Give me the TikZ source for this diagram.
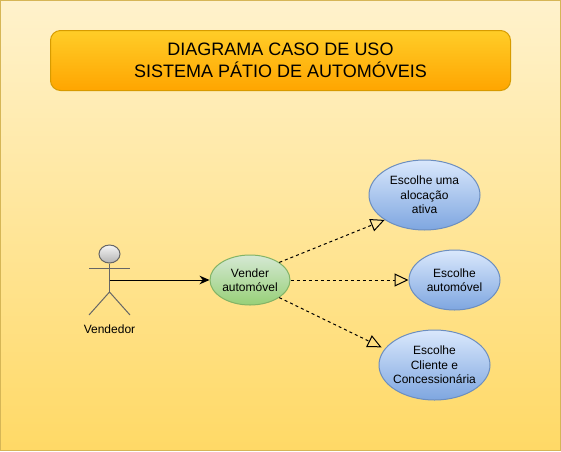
\documentclass[tikz,border=0pt]{standalone}
\usepackage{fontspec}
\setmainfont{Liberation Sans}
\usetikzlibrary{positioning, arrows.meta, shapes.geometric}

\definecolor{canvastop}{HTML}{FFF2CC}
\definecolor{canvasbot}{HTML}{FFD966}
\definecolor{canvasline}{HTML}{D6B656}
\definecolor{titletop}{HTML}{FFCD28}
\definecolor{titlebot}{HTML}{FFA500}
\definecolor{titleline}{HTML}{D79B00}
\definecolor{bluetop}{HTML}{DAE8FC}
\definecolor{bluebot}{HTML}{7EA6E0}
\definecolor{blueline}{HTML}{6C8EBF}
\definecolor{greentop}{HTML}{D5E8D4}
\definecolor{greenbot}{HTML}{97D077}
\definecolor{greenline}{HTML}{82B366}
\definecolor{greytop}{HTML}{F5F5F5}
\definecolor{greybot}{HTML}{B3B3B3}
\definecolor{greyline}{HTML}{666666}

\begin{document}
\begin{tikzpicture}[
  x=0.75pt, y=-0.75pt,
  canvas/.style={draw=canvasline, line width=0.75pt, top color=canvastop, bottom color=canvasbot},
  titlebox/.style={draw=titleline, line width=0.75pt, top color=titletop, bottom color=titlebot,
    rounded corners=7.5pt, minimum width=345pt, minimum height=45pt, inner sep=0pt,
    align=center, font=\fontsize{13.5}{16.5}\selectfont},
  usecase/.style={ellipse, draw=blueline, line width=0.75pt, top color=bluetop, bottom color=bluebot,
    minimum width=83.25pt, minimum height=52.5pt, inner sep=-12pt,
    align=center, font=\fontsize{9}{10.9}\selectfont},
  usecasemain/.style={usecase, draw=greenline, top color=greentop, bottom color=greenbot,
    minimum width=60pt, minimum height=37.5pt},
  head/.style={ellipse, draw=greyline, line width=0.75pt, top color=greytop, bottom color=greybot,
    minimum width=15.75pt, minimum height=13.5pt, inner sep=0pt},
  stick/.style={draw=greyline, line width=0.75pt},
  lab/.style={font=\fontsize{9}{10.9}\selectfont, inner sep=0pt},
  assoc/.style={draw=black, line width=0.75pt, -{Stealth[length=7.5pt, width=6.5pt]}},
  incl/.style={draw=black, line width=0.75pt, dash pattern=on 2.25pt off 2.25pt,
    -{Triangle[open, length=10.5pt, width=9.75pt]}}
]

\useasboundingbox (0,0) rectangle (561,451);
\path[canvas] (0.5,0.5) rectangle (560.5,450.5);

\node[titlebox] (T) at (280.5,60.5) {DIAGRAMA CASO DE USO\\SISTEMA PÁTIO DE AUTOMÓVEIS};

% actor
\node[head] (H) at (109.5,254) {};
\coordinate (W) at (109.5,280);
\coordinate (C) at (109.5,292);
\coordinate (AL) at (89,268.5);
\coordinate (AR) at (130,268.5);
\coordinate (FL) at (89,315);
\coordinate (FR) at (130,315);
\draw[stick] (H.south) -- (C);
\draw[stick] (AL) -- (AR);
\draw[stick] (FL) -- (C) -- (FR);
\node[lab] (VD) at (109.5,329) {Vendedor};

% use cases
\node[usecasemain] (M) at (250,280) {Vender\\automóvel};
\node[usecase] (U1) at (424.5,195) {Escolhe uma\\alocação\\ativa};
\node[usecase, minimum width=68.25pt, minimum height=45pt] (U2) at (454.5,280) {Escolhe\\automóvel};
\node[usecase] (U3) at (434.5,365) {Escolhe\\Cliente e\\Concessionária};

\draw[assoc] (W) -- (M.west);
\draw[incl] (M.31) -- (U1.212);
\draw[incl] (M.east) -- (U2.west);
\draw[incl, shorten >=2.6pt] (M.-31) -- (U3.162);

\end{tikzpicture}
\end{document}
